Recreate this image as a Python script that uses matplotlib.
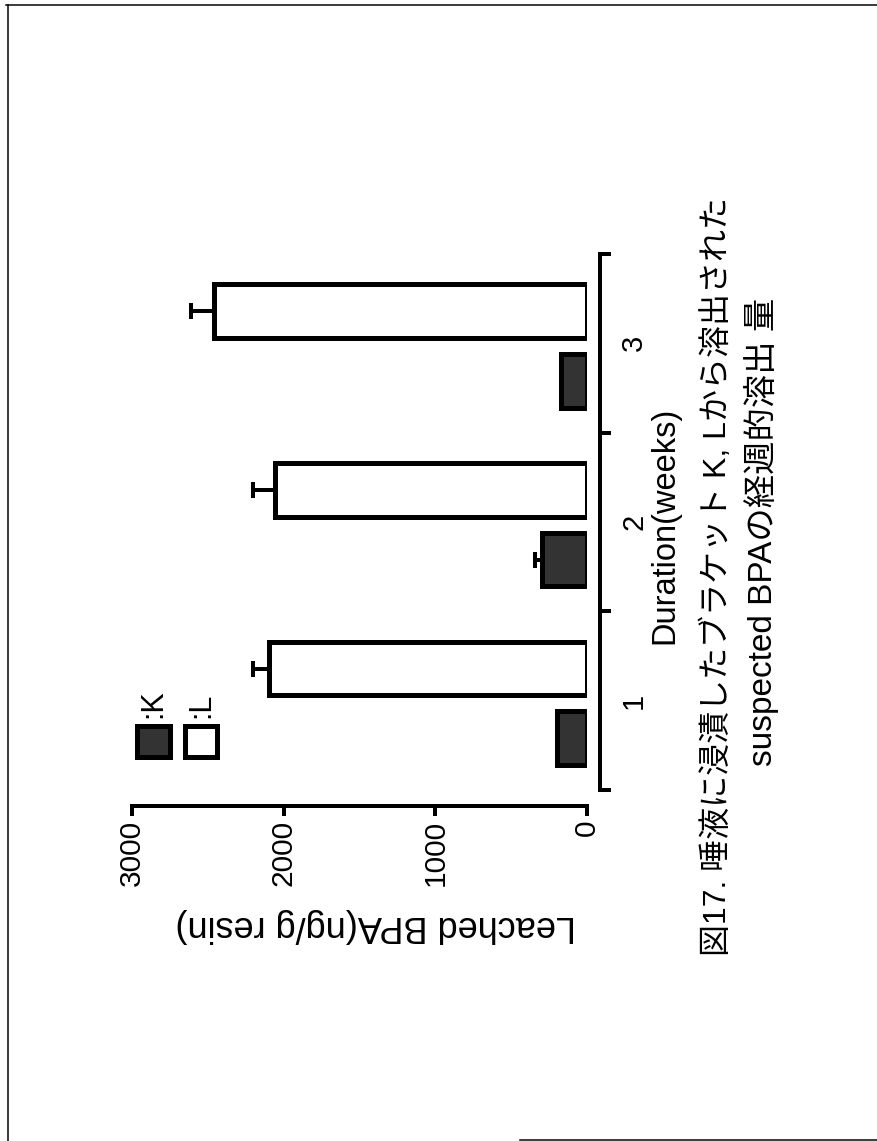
import numpy as np
import matplotlib
matplotlib.use("Agg")
import matplotlib.pyplot as plt
from matplotlib.lines import Line2D
from matplotlib.patches import Rectangle

# data
weeks = [1, 2, 3]
week_labels = ["1", "2", "3"]
bpa_k = [200, 300, 170]
bpa_k_err = [0, 45, 0]
bpa_l = [2100, 2060, 2460]
bpa_l_err = [100, 140, 150]
value_ticks = [0, 1000, 2000, 3000]

caption_1 = "図17. 唾液に浸漬したブラケット K, Lから溶出された"
caption_2 = "suspected BPAの経週的溶出 量"

W, H = 877, 1141
DPI = 100
PX = 72.0 / DPI  # points per pixel

plt.rcParams['font.family'] = ['Liberation Sans', 'Noto Sans CJK JP', 'DejaVu Sans']

fig = plt.figure(figsize=(W / DPI, H / DPI), dpi=DPI)

# axes: value axis horizontal (3000 on the left), weeks vertical, axis on the right
ax = fig.add_axes([132 / W, 1 - 790 / H, (587 - 132) / W, (790 - 254) / H])
ax.set_facecolor('none')

y = np.array(weeks, dtype=float)
bh = 0.30
lw = 5 * PX
k_face = '#333333'

ax.errorbar(bpa_l, y + 0.18, xerr=[np.zeros(3), bpa_l_err], fmt='none',
            ecolor='black', elinewidth=lw * 0.8, capsize=8 * PX, capthick=lw * 0.8, zorder=1)
ax.errorbar(bpa_k, y - 0.21, xerr=[np.zeros(3), bpa_k_err], fmt='none',
            ecolor='black', elinewidth=lw * 0.8, capsize=8 * PX, capthick=lw * 0.8, zorder=1)
ax.barh(y + 0.18, bpa_l, height=bh, color='white', edgecolor='black', linewidth=lw, zorder=2)
ax.barh(y - 0.21, bpa_k, height=bh, color=k_face, edgecolor='black', linewidth=lw, zorder=2)

ax.set_xlim(3000, 0)
ax.set_ylim(0.5, 3.5)

for s in ['left', 'top']:
    ax.spines[s].set_visible(False)
ax.spines['right'].set_position(('outward', 13 * PX))
ax.spines['bottom'].set_position(('outward', 16 * PX))
ax.spines['right'].set_bounds(0.5, 3.5)
ax.spines['bottom'].set_bounds(0, 3000)
for s in ['right', 'bottom']:
    ax.spines[s].set_linewidth(4 * PX)

ax.set_xticks(value_ticks)
ax.set_xticklabels([str(v) for v in value_ticks], rotation=90)
ax.tick_params(axis='x', direction='out', length=10 * PX, width=4 * PX,
               pad=4 * PX, labelsize=21.5)

ax.yaxis.tick_right()
ax.set_yticks(weeks)
ax.set_yticklabels(week_labels, rotation=90, va='center')
ax.set_yticks([0.5, 1.5, 2.5, 3.5], minor=True)
ax.tick_params(axis='y', which='major', length=0, pad=20 * PX, labelsize=21)
ax.tick_params(axis='y', which='minor', direction='out', length=11 * PX, width=4 * PX)

# legend drawn as small squares with rotated labels
ax.add_patch(Rectangle((0.011, 0.062), 0.073, 0.057, transform=ax.transAxes,
                       facecolor=k_face, edgecolor='black', linewidth=lw, clip_on=False))
ax.add_patch(Rectangle((0.117, 0.062), 0.070, 0.057, transform=ax.transAxes,
                       facecolor='white', edgecolor='black', linewidth=lw, clip_on=False))
ax.text(0.046, 0.134, ":K", transform=ax.transAxes, rotation=90,
        ha='center', va='bottom', fontsize=22)
ax.text(0.152, 0.134, ":L", transform=ax.transAxes, rotation=90,
        ha='center', va='bottom', fontsize=22)

# axis titles, rotated like the scanned page
fig.text(376 / W, 1 - 925 / H, "Leached BPA(ng/g resin)", rotation=180,
         ha='center', va='center', fontsize=26)
fig.text(665 / W, 1 - 525 / H, "Duration(weeks)", rotation=90,
         ha='center', va='center', fontsize=23.5)

# caption
fig.text(717 / W, 1 - 576 / H, caption_1, rotation=90, ha='center', va='center', fontsize=23)
fig.text(762 / W, 1 - 532 / H, caption_2, rotation=90, ha='center', va='center', fontsize=24)

# page frame
frame_lw = 1.5 * PX
fig.add_artist(Line2D([6 / W, 1], [1 - 5 / H, 1 - 5 / H], color='black', lw=frame_lw))
fig.add_artist(Line2D([8 / W, 8 / W], [0, 1 - 5 / H], color='black', lw=frame_lw))
fig.add_artist(Line2D([520 / W, 1], [1.5 / H, 1.5 / H], color='black', lw=frame_lw))

fig.savefig("out.png", dpi=DPI)
